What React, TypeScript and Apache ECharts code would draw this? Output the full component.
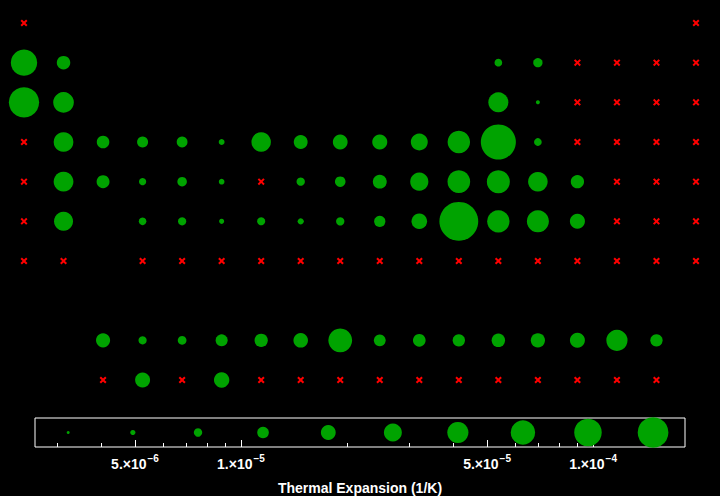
import React, { useEffect, useRef } from "react";
import * as echarts from "echarts";

// null = element without data (red cross), undefined = no element in that cell
const NA = null;
const __ = undefined;

const period1 = [NA, __, __, __, __, __, __, __, __, __, __, __, __, __, __, __, __, NA];
const period2 = [4.6e-5, 1.13e-5, __, __, __, __, __, __, __, __, __, __, 6e-6, 7.1e-6, NA, NA, NA, NA];
const period3 = [7.1e-5, 2.48e-5, __, __, __, __, __, __, __, __, __, __, 2.31e-5, 2.6e-6, NA, NA, NA, NA];
const period4 = [NA, 2.23e-5, 1.02e-5, 8.6e-6, 8.4e-6, 4.9e-6, 2.17e-5, 1.18e-5, 1.3e-5, 1.34e-5, 1.65e-5, 3.02e-5, 1.2e-4, 6e-6, NA, NA, NA, NA];
const period5 = [NA, 2.25e-5, 1.06e-5, 5.7e-6, 7.3e-6, 4.8e-6, NA, 6.4e-6, 8.2e-6, 1.18e-5, 1.89e-5, 3.08e-5, 3.21e-5, 2.2e-5, 1.1e-5, NA, NA, NA];
const period6 = [NA, 2.06e-5, __, 5.9e-6, 6.3e-6, 4.5e-6, 6.2e-6, 5.1e-6, 6.4e-6, 8.8e-6, 1.42e-5, 1.81e-4, 2.99e-5, 2.89e-5, 1.34e-5, NA, NA, NA];
const period7 = [NA, NA, __, NA, NA, NA, NA, NA, NA, NA, NA, NA, NA, NA, NA, NA, NA, NA];
const lanthanides = [1.21e-5, 6.3e-6, 6.7e-6, 9.6e-6, 1.1e-5, 1.27e-5, 3.5e-5, 9.4e-6, 1.03e-5, 9.9e-6, 1.12e-5, 1.22e-5, 1.33e-5, 2.63e-5, 9.9e-6];
const actinides = [NA, 1.33e-5, NA, 1.39e-5, NA, NA, NA, NA, NA, NA, NA, NA, NA, NA, NA];

const legendValues = [3.23e-6, 4.93e-6, 7.55e-6, 1.155e-5, 1.77e-5, 2.7e-5, 4.13e-5, 6.32e-5, 9.67e-5, 1.48e-4];
const majorTicks = [5e-6, 1e-5, 5e-5, 1e-4];
const minorTicks = [3e-6, 4e-6, 6e-6, 7e-6, 8e-6, 9e-6, 2e-5, 3e-5, 4e-5, 6e-5, 7e-5, 8e-5, 9e-5];
const axisTitle = "Thermal Expansion (1/K)";

const FONT = "'Liberation Sans', Arial, Helvetica, sans-serif";
const GREEN = "#00a300";
const RED = "#ff0000";
const CROSS = "path://M0,2 L2,0 L5,3 L8,0 L10,2 L7,5 L10,8 L8,10 L5,7 L2,10 L0,8 L3,5 Z";

const tableRows: { row: number; startCol: number; values: (number | null | undefined)[] }[] = [
  { row: 1, startCol: 1, values: period1 },
  { row: 2, startCol: 1, values: period2 },
  { row: 3, startCol: 1, values: period3 },
  { row: 4, startCol: 1, values: period4 },
  { row: 5, startCol: 1, values: period5 },
  { row: 6, startCol: 1, values: period6 },
  { row: 7, startCol: 1, values: period7 },
  { row: 9, startCol: 3, values: lanthanides },
  { row: 10, startCol: 3, values: actinides },
];

const tableSize = (v: number) => Math.max(4, 11 + 21 * (Math.log10(v) + 5.066));
const legendSize = (v: number) => Math.max(3, 2 + 17.3 * (Math.log10(v) + 5.491));

export default function App() {
  const ref = useRef<HTMLDivElement>(null);
  useEffect(() => {
    if (!ref.current) return;
    const chart = echarts.init(ref.current, null, { renderer: "svg" });
    const present: number[][] = [];
    const missing: number[][] = [];
    tableRows.forEach(({ row, startCol, values }) => {
      values.forEach((v, i) => {
        const col = startCol + i;
        if (v === undefined) return;
        if (v === null) missing.push([col, row]);
        else present.push([col, row, v]);
      });
    });
    const tickLabel = (val: number) => {
      const e = Math.floor(val + 1e-9);
      const m = Math.round(Math.pow(10, val - e));
      return `{m|${m}.×10}{s|−${-e}}`;
    };
    chart.setOption({
      animation: false,
      backgroundColor: "#000",
      grid: [
        { left: 24, top: 23, width: 672, height: 357 },
        { left: 35, top: 418, width: 650, height: 33, show: true, borderColor: "#fff", borderWidth: 1, backgroundColor: "transparent" },
      ],
      xAxis: [
        { type: "value", gridIndex: 0, min: 1, max: 18, show: false },
        {
          type: "value",
          gridIndex: 1,
          min: Math.log10(2.6e-6),
          max: -3.739,
          position: "bottom",
          axisLine: { show: false },
          splitLine: { show: false },
          axisTick: { show: true, inside: true, length: 7, lineStyle: { color: "#fff", width: 1 }, customValues: majorTicks.map(Math.log10) },
          axisLabel: {
            show: true,
            margin: 6,
            customValues: majorTicks.map(Math.log10),
            formatter: tickLabel,
            rich: {
              m: { color: "#fff", fontSize: 14, fontWeight: "bold", fontFamily: FONT, verticalAlign: "bottom" },
              s: { color: "#fff", fontSize: 10, fontWeight: "bold", fontFamily: FONT, verticalAlign: "bottom", padding: [0, 0, 8, 1] },
            },
          },
          name: axisTitle,
          nameLocation: "middle",
          nameGap: 34,
          nameTextStyle: { color: "#fff", fontSize: 14, fontWeight: "bold", fontFamily: FONT },
        },
        {
          type: "value",
          gridIndex: 1,
          min: Math.log10(2.6e-6),
          max: -3.739,
          position: "bottom",
          axisLine: { show: false },
          splitLine: { show: false },
          axisTick: { show: true, inside: true, length: 4, lineStyle: { color: "#fff", width: 1 }, customValues: minorTicks.map(Math.log10) },
          axisLabel: { show: false },
        },
      ],
      yAxis: [
        { type: "value", gridIndex: 0, min: 1, max: 10, inverse: true, show: false },
        { type: "value", gridIndex: 1, min: 0, max: 1, show: false },
      ],
      series: [
        {
          type: "scatter",
          xAxisIndex: 0,
          yAxisIndex: 0,
          clip: false,
          symbol: "circle",
          symbolSize: (d: number[]) => tableSize(d[2]),
          itemStyle: { color: GREEN, opacity: 1 },
          data: present,
        },
        {
          type: "scatter",
          xAxisIndex: 0,
          yAxisIndex: 0,
          clip: false,
          symbol: CROSS,
          symbolSize: 7,
          itemStyle: { color: RED, opacity: 1 },
          data: missing,
        },
        {
          type: "scatter",
          xAxisIndex: 1,
          yAxisIndex: 1,
          clip: false,
          symbol: "circle",
          symbolSize: (d: number[]) => legendSize(d[2]),
          itemStyle: { color: GREEN, opacity: 1 },
          data: legendValues.map((v) => [Math.log10(v), 0.5, v]),
        },
      ],
    });
    return () => chart.dispose();
  }, []);
  return (
    <div
      ref={ref}
      style={{ position: "fixed", left: 0, top: 0, width: 720, height: 496, background: "#000" }}
    />
  );
}
